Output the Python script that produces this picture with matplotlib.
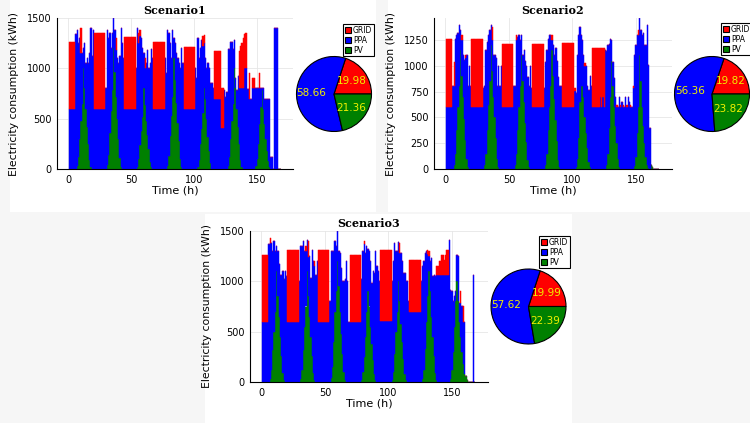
import numpy as np
import matplotlib
matplotlib.use('Agg')
import matplotlib.pyplot as plt
from matplotlib.patches import Rectangle

# hourly values for one week (kWh), one row per day
hours = np.arange(1, 169)

s1_pv = [0,0,0,0,0,0,30,120,300,480,650,1000,800,600,420,250,90,20,0,0,0,0,0,0,
         0,0,0,0,0,0,40,140,360,580,780,1200,960,720,500,300,110,20,0,0,0,0,0,0,
         0,0,0,0,0,0,20,100,240,380,520,800,640,480,340,200,70,15,0,0,0,0,0,0,
         0,0,0,0,0,0,30,130,330,530,715,1100,880,660,460,275,100,22,0,0,0,0,0,0,
         0,0,0,0,0,0,20,90,250,400,560,800,700,500,320,180,60,0,0,0,0,0,0,0,
         0,0,0,0,0,0,30,120,300,480,650,1000,800,600,420,250,90,20,0,0,0,0,0,0,
         0,0,0,0,30,100,250,450,620,780,600,450,300,180,80,20,0,0,0,0,0,0,0,0]
s1_ppa = [600,600,600,600,600,1340,1350,1130,1000,670,500,200,450,450,680,800,1060,1380,1120,1380,600,600,600,600,
          600,600,600,600,600,800,1340,1160,990,620,570,300,420,460,600,750,1010,1380,1250,1100,600,600,600,600,
          600,600,600,600,600,1000,1380,1150,1080,920,680,350,360,570,840,800,980,1180,1100,600,600,600,600,600,
          600,600,600,600,1100,950,1350,1220,920,570,665,200,370,490,640,775,900,1180,1050,600,600,600,600,600,
          600,600,600,600,1000,900,1280,1010,950,880,660,450,400,500,730,820,790,850,800,700,700,700,700,700,
          700,410,410,780,720,760,1160,1070,965,780,540,285,100,180,500,550,710,780,800,1000,1000,790,790,700,
          700,800,800,800,770,700,550,350,180,20,200,250,400,520,620,680,120,120,0,1400,1400,1400,0,0]
s1_grid = [665,665,665,665,665,0,0,0,0,250,0,0,0,0,0,0,0,0,0,0,750,750,750,750,
           750,750,750,750,750,0,0,0,0,0,0,0,0,120,0,0,0,0,0,0,715,715,715,715,
           715,715,715,715,715,0,0,100,60,0,0,0,100,0,0,0,0,0,0,665,665,665,665,665,
           665,665,665,665,0,0,0,0,0,0,0,0,0,0,0,0,0,0,0,615,615,615,615,615,
           615,615,615,615,0,0,0,0,0,0,100,80,0,0,0,0,0,0,0,475,475,475,475,475,
           475,390,390,0,0,0,0,0,0,0,0,0,0,0,0,370,420,450,500,345,350,0,0,255,
           0,100,100,100,0,0,0,150,0,0,0,0,0,0,0,0,0,0,0,0,0,0,0,0]

s2_pv = [0,0,0,0,0,0,40,150,380,600,800,1150,900,700,480,280,100,20,0,0,0,0,0,0,
         0,0,0,0,0,0,40,150,380,620,850,1200,950,700,500,300,100,20,0,0,0,0,0,0,
         0,0,0,0,0,0,40,150,380,600,800,1100,850,650,450,260,90,20,0,0,0,0,0,0,
         0,0,0,0,0,0,40,150,380,600,800,1150,900,680,470,270,90,20,0,0,0,0,0,0,
         0,0,0,0,0,0,20,100,300,650,800,800,700,500,350,200,70,20,0,0,0,0,0,0,
         0,0,0,0,0,0,40,150,400,700,1050,800,600,420,250,100,20,0,0,0,0,0,0,0,
         0,0,0,0,30,120,350,600,1100,850,600,420,250,120,40,10,0,40,20,0,0,0,0,0]
s2_ppa = [600,600,600,600,600,800,760,1110,920,720,600,200,350,400,580,800,1000,780,1000,800,600,600,600,600,
          600,600,600,600,600,780,760,1000,850,680,500,200,300,400,600,780,700,980,800,1000,600,600,600,600,
          600,600,600,600,600,800,760,1100,900,700,450,200,250,500,600,740,800,780,1000,780,600,600,600,600,
          600,600,600,600,600,780,1000,1000,880,700,500,100,300,420,700,780,800,780,800,600,600,600,600,600,
          600,600,600,600,600,760,720,1000,1000,725,500,450,400,500,650,600,700,880,800,600,600,600,600,600,
          600,700,600,700,600,1150,1100,1050,810,560,200,240,280,280,350,500,680,600,650,600,600,700,600,700,
          650,600,600,780,1070,1080,950,700,360,500,700,900,950,1080,1360,1000,400,0,0,0,0,0,0,0]
s2_grid = [660,660,660,660,660,0,240,0,0,0,0,0,50,0,0,20,0,0,0,0,660,660,660,660,
           660,660,660,660,660,0,0,0,0,0,0,0,130,0,0,0,0,0,0,0,610,610,610,610,
           610,610,610,610,610,0,0,50,0,0,0,0,0,0,0,0,0,0,0,0,610,610,610,610,
           610,610,610,610,610,0,0,0,0,0,0,50,0,0,0,0,0,0,0,620,620,620,620,620,
           620,620,620,620,620,20,0,0,0,0,0,0,0,30,0,0,0,0,0,575,575,575,575,575,
           575,475,575,475,575,0,0,0,0,0,0,0,0,0,20,0,0,20,0,20,0,0,20,0,
           0,20,0,20,0,0,0,50,0,0,0,0,0,0,0,0,0,0,0,0,0,0,0,0]

s3_pv = [0,0,0,0,0,0,30,120,320,500,700,1100,850,650,450,260,90,20,0,0,0,0,0,0,
         0,0,0,0,0,0,30,120,320,550,750,1100,850,650,450,260,90,20,0,0,0,0,0,0,
         0,0,0,0,0,0,40,150,400,700,900,1200,950,700,480,280,100,20,0,0,0,0,0,0,
         0,0,0,0,0,0,20,100,250,450,700,900,750,550,380,220,80,15,0,0,0,0,0,0,
         0,0,0,0,0,0,20,100,280,500,700,1000,800,580,400,230,80,20,0,0,0,0,0,0,
         0,0,0,0,0,0,30,120,330,600,850,1100,900,650,450,260,90,20,0,0,0,0,0,0,
         0,0,0,0,30,120,300,550,800,1000,800,600,450,300,180,80,60,20,0,0,0,0,0,0]
s3_ppa = [600,600,600,600,600,1370,1350,1260,980,900,600,250,450,520,610,800,1010,1000,1100,1050,600,600,600,600,
          600,600,600,600,600,1000,1320,1230,1080,750,550,310,390,600,580,1050,1110,1130,1060,1200,600,600,600,600,
          600,600,600,600,600,800,1260,1150,900,700,450,300,350,580,650,720,900,1000,1200,1000,600,600,600,600,
          600,600,600,600,600,600,1000,1200,1120,830,650,420,550,650,600,880,1000,1285,1150,1100,1000,610,610,610,
          610,610,610,610,610,610,980,1100,1100,800,600,390,480,700,800,850,1000,980,1000,800,700,700,700,700,
          700,700,700,700,700,1000,1120,1080,950,700,420,150,300,580,600,800,960,1040,1060,1060,1060,1060,1060,1060,
          1060,1060,1060,1410,880,780,500,300,100,260,450,180,330,450,420,520,0,0,0,0,0,0,1060,0]
s3_grid = [660,660,660,660,660,0,50,0,0,0,0,0,0,0,0,0,0,0,0,0,710,710,710,710,
           710,710,710,710,710,0,0,0,0,0,50,0,160,0,0,0,0,50,0,0,710,710,710,710,
           710,710,710,710,710,0,0,0,0,0,0,0,0,0,0,0,0,0,0,0,0,660,660,660,
           660,660,660,660,660,660,0,0,30,0,0,0,0,0,0,0,0,0,0,0,0,700,700,700,
           700,700,700,700,700,700,0,0,0,0,0,0,100,0,0,0,0,0,0,0,510,510,510,510,
           510,510,510,510,510,0,0,0,0,0,40,50,0,0,0,0,0,90,90,140,140,200,200,150,
           200,250,250,0,0,0,0,0,0,0,0,0,120,0,150,0,0,0,0,0,0,0,0,0]

pie_labels = ['GRID', 'PPA', 'PV']
pie_colors = ['red', 'blue', 'green']
s1_share = [19.98, 58.66, 21.36]
s2_share = [19.82, 56.36, 23.82]
s3_share = [19.99, 57.62, 22.39]

scenarios = [
    ('Scenario1', s1_pv, s1_ppa, s1_grid, s1_share, 1500, [0, 500, 1000, 1500]),
    ('Scenario2', s2_pv, s2_ppa, s2_grid, s2_share, 1463, [0, 250, 500, 750, 1000, 1250]),
    ('Scenario3', s3_pv, s3_ppa, s3_grid, s3_share, 1500, [0, 500, 1000, 1500]),
]

# layout in pixels (left, top, right, bottom)
panels = [(10, 0, 376, 212), (388, 0, 750, 212), (205, 214, 572, 423)]
bar_boxes = [(57, 18, 293, 169), (434, 18, 672, 169), (250, 231, 488, 382)]
pie_centers = [(334, 94), (712, 94), (528.5, 306.5)]
legend_corners = [(343, 24), (721, 23), (539, 236)]

W, H = 750, 423
fig = plt.figure(figsize=(7.5, 4.23), dpi=100, facecolor='#f6f6f6')


def fbox(l, t, r, b):
    return [l / W, 1 - b / H, (r - l) / W, (b - t) / H]


for (l, t, r, b) in panels:
    fig.add_artist(Rectangle((l / W, 1 - b / H), (r - l) / W, (b - t) / H,
                             transform=fig.transFigure, facecolor='white',
                             edgecolor='none', zorder=0))

for i, (name, pv, ppa, grid, share, ytop, yticks) in enumerate(scenarios):
    assert len(pv) == len(ppa) == len(grid) == 168, name
    pv = np.array(pv); ppa = np.array(ppa); grid = np.array(grid)
    ax = fig.add_axes(fbox(*bar_boxes[i]))
    for vals, bot, c in [(pv, 0, 'green'), (ppa, pv, 'blue'), (grid, pv + ppa, 'red')]:
        ax.bar(hours, vals, bottom=bot, width=1.0, color=c, edgecolor=c,
               linewidth=0.35, zorder=3)
    ax.set_xlim(-9, 178.4)
    ax.set_ylim(0, ytop)
    ax.set_xticks([0, 50, 100, 150])
    ax.set_yticks(yticks)
    ax.grid(True, color='#e6e6e6', linewidth=0.6, zorder=0)
    ax.set_axisbelow(True)
    for s in ['top', 'right']:
        ax.spines[s].set_visible(False)
    for s in ['left', 'bottom']:
        ax.spines[s].set_linewidth(0.8)
        ax.spines[s].set_zorder(5)
    ax.tick_params(labelsize=7, length=0, pad=4)
    ax.set_title(name, fontsize=8, fontweight='bold', family='DejaVu Serif', pad=3)
    ax.set_xlabel('Time (h)', fontsize=8)
    ax.set_ylabel('Electricity consumption (kWh)', fontsize=7.8)
    ax.xaxis.set_label_coords(0.5, -0.11)
    ax.yaxis.set_label_coords(-0.16, 0.5)

    cx, cy = pie_centers[i]
    r = 37.5 * 1.06
    pax = fig.add_axes(fbox(cx - r, cy - r, cx + r, cy + r))
    wedges, _, autotexts = pax.pie(share, colors=pie_colors, startangle=0,
                                   autopct=lambda p: f'{p:.2f}', pctdistance=0.6,
                                   wedgeprops=dict(edgecolor='black', linewidth=0.8),
                                   textprops=dict(color='#f0f000', fontsize=7.5))
    pax.set_xlim(-1.06, 1.06)
    pax.set_ylim(-1.06, 1.06)
    lx, ly = legend_corners[i]
    leg = pax.legend(wedges, pie_labels, loc='upper left',
                     bbox_to_anchor=(lx / W, 1 - ly / H), bbox_transform=fig.transFigure,
                     fontsize=5.5, handlelength=0.9, handleheight=0.9, handletextpad=0.2,
                     labelspacing=0.15, borderpad=0.2, borderaxespad=0,
                     fancybox=False, framealpha=1, edgecolor='black')
    leg.get_frame().set_linewidth(0.8)

fig.savefig('out.png', dpi=100, facecolor=fig.get_facecolor())
